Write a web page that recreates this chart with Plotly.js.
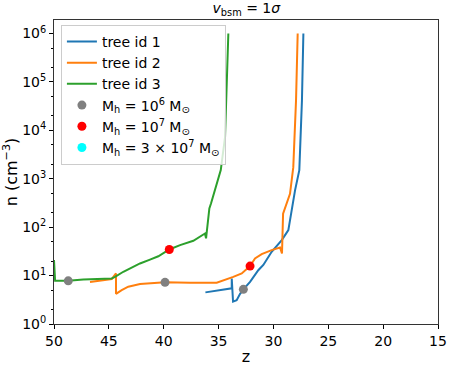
<!DOCTYPE html>
<html>
<head>
<meta charset="utf-8">
<script src="https://cdn.plot.ly/plotly-3.0.1.min.js"></script>
<style>
  body { margin: 0; background: #fff; }
  #chart { width: 452px; height: 366px; }
</style>
</head>
<body>
<div id="chart"></div>
<script>
// tree id 1
var z1 = [36.2, 33.8, 33.8, 33.68, 33.35, 33.04, 32.74, 32.13, 31.38, 30.92, 30.16, 29.24, 28.64, 28.33, 28.03, 27.64, 27.4, 27.27];
var n1 = [4.5, 5.45, 8.7, 2.9, 3.1, 4.2, 5.2, 7.4, 12.9, 16.6, 31, 54, 87, 224, 575, 1510, 41700, 1e6];

// tree id 2
var z2 = [46.72, 44.74, 44.35, 44.35, 43.83, 43.23, 42.16, 40.64, 39.88, 37.6, 35.17, 33.66, 32.89, 32.13, 31.68, 31.07, 30.16, 29.4, 29.22, 29.12, 28.49, 28.19, 27.94, 27.79];
var n2 = [7.4, 8.5, 11.1, 4.2, 5.0, 5.9, 6.7, 7.1, 7.25, 7.1, 7.1, 9.4, 11.1, 15.7, 22.6, 27.7, 33.6, 38, 28.8, 190, 490, 1740, 41700, 1e6];

// tree id 3
var z3 = [50.0, 49.9, 48.7, 47.33, 44.74, 44.44, 43.68, 42.77, 42.16, 41.25, 40.49, 39.49, 38.51, 37.3, 36.39, 36.24, 36.14, 35.84, 35.69, 34.8, 34.41, 34.11];
var n3 = [21, 7.8, 7.8, 8.3, 8.7, 9.4, 12, 15.1, 17.8, 21.4, 25.1, 34.6, 42.7, 52.5, 68.4, 74, 59, 245, 309, 1510, 7240, 1e6];

// halo mass markers (no 3e7 halo reached in this range)
var zM6 = [48.7, 39.88, 32.74];
var nM6 = [7.8, 7.25, 5.2];
var zM7 = [39.49, 32.13];
var nM7 = [34.6, 15.7];
var zM3e7 = [null];
var nM3e7 = [null];

var yTickVals = [1, 10, 100, 1e3, 1e4, 1e5, 1e6];
var yTickText = ["10<sup>0</sup>", "10<sup>1</sup>", "10<sup>2</sup>", "10<sup>3</sup>", "10<sup>4</sup>", "10<sup>5</sup>", "10<sup>6</sup>"];
var xTickVals = [50, 45, 40, 35, 30, 25, 20, 15];

var data = [
  {x: z1, y: n1, mode: "lines", name: "tree id 1", line: {color: "#1f77b4", width: 2}},
  {x: z2, y: n2, mode: "lines", name: "tree id 2", line: {color: "#ff7f0e", width: 2}},
  {x: z3, y: n3, mode: "lines", name: "tree id 3", line: {color: "#2ca02c", width: 2}},
  {x: zM6, y: nM6, mode: "markers", name: "M<sub>h</sub> = 10<sup>6</sup> M<sub>⊙</sub>", marker: {color: "grey", size: 9}},
  {x: zM7, y: nM7, mode: "markers", name: "M<sub>h</sub> = 10<sup>7</sup> M<sub>⊙</sub>", marker: {color: "red", size: 9}},
  {x: zM3e7, y: nM3e7, mode: "markers", name: "M<sub>h</sub> = 3 × 10<sup>7</sup> M<sub>⊙</sub>", marker: {color: "cyan", size: 9}}
];

var layout = {
  width: 452,
  height: 366,
  margin: {l: 54, r: 14, t: 20, b: 42},
  paper_bgcolor: "#fff",
  plot_bgcolor: "#fff",
  font: {family: "DejaVu Sans", size: 14, color: "#000"},
  title: {text: "<i>v</i><sub>bsm</sub> = 1<i>σ</i>", x: 0.545, xanchor: "center", y: 0.99, yanchor: "top", font: {size: 14}},
  showlegend: true,
  legend: {
    x: 0.018, y: 0.984, xanchor: "left", yanchor: "top",
    bgcolor: "rgba(255,255,255,0.8)", bordercolor: "#ccc", borderwidth: 1,
    font: {size: 14}, tracegroupgap: 0
  },
  xaxis: {
    range: [50, 15],
    tickvals: xTickVals,
    ticks: "outside", ticklen: 4, tickcolor: "#000",
    showline: true, mirror: true, linecolor: "#333", linewidth: 1,
    showgrid: false, zeroline: false,
    title: {text: "z", font: {size: 16}, standoff: 4}
  },
  yaxis: {
    type: "log",
    range: [0, 6.28],
    tickvals: yTickVals, ticktext: yTickText,
    ticks: "outside", ticklen: 4, tickcolor: "#000",
    minor: {ticks: "outside", ticklen: 2, tickcolor: "#000", showgrid: false},
    showline: true, mirror: true, linecolor: "#333", linewidth: 1,
    showgrid: false, zeroline: false,
    title: {text: "n (cm<sup>−3</sup>)", font: {size: 16}, standoff: 4}
  }
};

Plotly.newPlot("chart", data, layout, {displayModeBar: false});
</script>
</body>
</html>
